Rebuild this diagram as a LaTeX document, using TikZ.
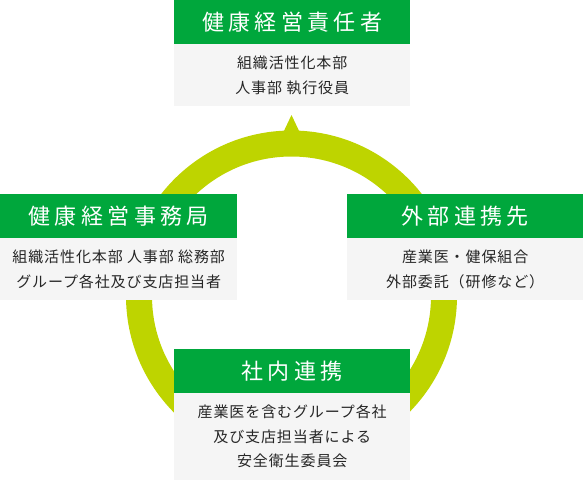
\documentclass[tikz,border=0pt]{standalone}
\usepackage{fontspec}
\setmainfont{Noto Sans CJK JP}
\newfontfamily\titlefont[LetterSpace=20]{Noto Sans CJK JP}
\newfontfamily\bodyfont[LetterSpace=6]{Noto Sans CJK JP}
\definecolor{hdrgreen}{HTML}{00A73C}
\definecolor{ringlime}{HTML}{BED400}
\definecolor{bodygray}{HTML}{F5F5F5}
\definecolor{bodytext}{HTML}{262626}
\tikzset{
  hdr/.style={fill=hdrgreen, text=white, inner sep=0pt, anchor=north west,
    minimum height=44pt, font=\titlefont\fontsize{22}{26}\selectfont},
  bodybox/.style={fill=bodygray, text=bodytext, inner sep=0pt, anchor=north west,
    align=center, font=\bodyfont\fontsize{15}{24.5}\selectfont},
  ring/.style={draw=ringlime, line width=26pt},
}
\begin{document}
\begin{tikzpicture}[x=1pt,y=-1pt]
\useasboundingbox (0,0) rectangle (583,480);
% ring
\coordinate (c) at (291.5,296);
\draw[ring] (c) circle[radius=152.5pt];
\coordinate (tip) at (291.5,115);
\fill[ringlime] (282.5,134) -- (tip) -- (300.5,134) -- cycle;
% top
\node[hdr, minimum width=236pt] (h1) at (174,0) {健康経営責任者};
\node[bodybox, minimum width=236pt, minimum height=62pt] (b1) at (174,44) {組織活性化本部\\人事部 執行役員};
% left
\node[hdr, minimum width=237pt] (h2) at (0,194) {健康経営事務局};
\node[bodybox, minimum width=237pt, minimum height=62pt] (b2) at (0,238) {組織活性化本部 人事部 総務部\\グループ各社及び支店担当者};
% right
\node[hdr, minimum width=236pt] (h3) at (347,194) {外部連携先};
\node[bodybox, minimum width=236pt, minimum height=62pt] (b3) at (347,238) {産業医・健保組合\\外部委託（研修など）};
% bottom
\node[hdr, minimum width=236pt] (h4) at (174,349) {社内連携};
\node[bodybox, minimum width=236pt, minimum height=87pt] (b4) at (174,393) {産業医を含むグループ各社\\及び支店担当者による\\安全衛生委員会};
\end{tikzpicture}
\end{document}
